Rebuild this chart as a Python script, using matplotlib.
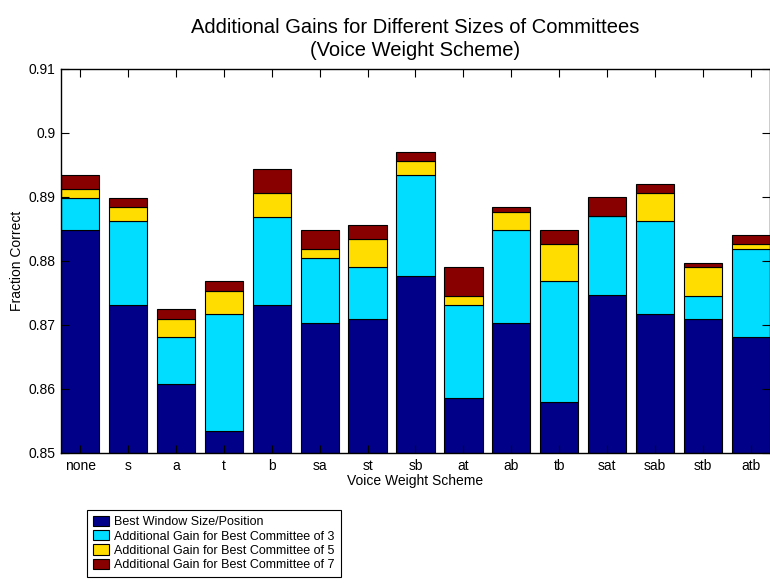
import matplotlib
matplotlib.use("Agg")
import matplotlib.pyplot as plt
import numpy as np

plt.rcParams['font.family'] = ['Liberation Sans', 'DejaVu Sans']

# voice weight schemes
schemes = ['none', 's', 'a', 't', 'b', 'sa', 'st', 'sb', 'at', 'ab',
           'tb', 'sat', 'sab', 'stb', 'atb']

# fraction correct with best window, then the extra gain from committees
best_window = [0.8848, 0.8732, 0.8608, 0.8535, 0.8732, 0.8703, 0.8710, 0.8776,
               0.8586, 0.8703, 0.8579, 0.8747, 0.8717, 0.8710, 0.8681]
gain_3 = [0.0051, 0.0130, 0.0073, 0.0182, 0.0137, 0.0101, 0.0080, 0.0159,
          0.0145, 0.0145, 0.0189, 0.0123, 0.0145, 0.0036, 0.0138]
gain_5 = [0.0014, 0.0022, 0.0029, 0.0036, 0.0037, 0.0015, 0.0044, 0.0021,
          0.0015, 0.0029, 0.0058, 0.0000, 0.0044, 0.0044, 0.0007]
gain_7 = [0.0022, 0.0015, 0.0015, 0.0015, 0.0037, 0.0029, 0.0022, 0.0015,
          0.0044, 0.0007, 0.0022, 0.0030, 0.0015, 0.0007, 0.0015]

labels = ['Best Window Size/Position',
          'Additional Gain for Best Committee of 3',
          'Additional Gain for Best Committee of 5',
          'Additional Gain for Best Committee of 7']
colors = ['#000088', '#00DDFF', '#FFDD00', '#880000']

fig = plt.figure(figsize=(7.7, 5.83), dpi=100)
ax = fig.add_axes([61/770, 130/583, 709/770, 384/583])

x = np.arange(1, len(schemes) + 1)
bottom = np.zeros(len(schemes))
handles = []
for vals, c, lab in zip([best_window, gain_3, gain_5, gain_7], colors, labels):
    vals = np.array(vals)
    if lab == labels[0]:
        b = ax.bar(x, vals - 0.85, width=0.8, bottom=0.85, color=c,
                   edgecolor='black', linewidth=0.8, label=lab)
        bottom = vals.copy()
    else:
        b = ax.bar(x, vals, width=0.8, bottom=bottom, color=c,
                   edgecolor='black', linewidth=0.8, label=lab)
        bottom = bottom + vals
    handles.append(b)

ax.set_xlim(0.6, 15.4)
ax.set_ylim(0.85, 0.91)
ax.set_xticks(x)
ax.set_xticklabels(schemes)
ax.set_yticks([0.85, 0.86, 0.87, 0.88, 0.89, 0.9, 0.91])
ax.set_yticklabels(['0.85', '0.86', '0.87', '0.88', '0.89', '0.9', '0.91'])
ax.tick_params(direction='in', top=True, right=True, labelsize=10,
               length=6, width=0.8, pad=4)
for s in ax.spines.values():
    s.set_linewidth(1.0)

ax.set_title('Additional Gains for Different Sizes of Committees\n(Voice Weight Scheme)',
             fontsize=14.5, pad=9, linespacing=1.3)
ax.set_xlabel('Voice Weight Scheme', fontsize=10, labelpad=1)
ax.set_ylabel('Fraction Correct', fontsize=10, labelpad=3)

leg = fig.legend(handles=handles, loc='upper left',
                 bbox_to_anchor=(87/770, 1 - 510/583), fontsize=9,
                 fancybox=False, edgecolor='black', framealpha=1,
                 borderpad=0.45, labelspacing=0.15, handlelength=1.3,
                 handleheight=0.9, handletextpad=0.45, borderaxespad=0)
leg.get_frame().set_linewidth(0.8)

fig.savefig('out.png', dpi=100)
